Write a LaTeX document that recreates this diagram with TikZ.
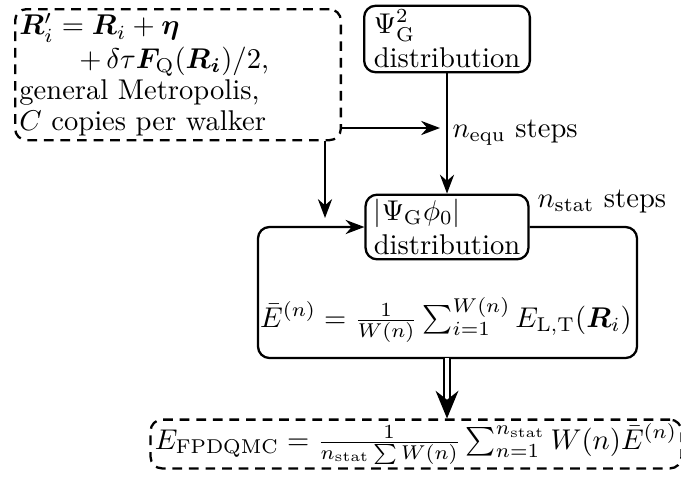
\documentclass[tikz,border=0pt]{standalone}
\usepackage{amsmath}
\usepackage{bm}
\usetikzlibrary{positioning,arrows.meta}

\begin{document}
\begin{tikzpicture}[
  x=0.35pt,y=-0.35pt,
  box/.style={draw,thick,rounded corners=4pt,align=left,inner sep=1.5pt},
  dbox/.style={box,dash pattern=on 3.4pt off 2.4pt},
  a/.style={-{Stealth},thick},
  dbl/.style={double,double distance=1.4pt,thick,-{Stealth[length=3.4mm,width=2.8mm]}}]
\useasboundingbox (0,0) rectangle (681,476);
\node[dbox,text width=111pt,anchor=north west,
      font=\fontsize{10pt}{10.8pt}\selectfont] (prop) at (14,8)
  {$\bm{R}'_i = \bm{R}_i + \bm{\eta}$\\[1pt]
   \hspace*{21pt}$+\,\delta\tau\bm{F}_\mathrm{Q}(\bm{R_i})/2$,\\
   general Metropolis,\\
   $C$ copies per walker};
\node[box,minimum width=58pt] (psi) at (447,39) {$\Psi_\mathrm{G}^2$\\distribution};
\node[box,fill=white,minimum width=57pt] (stat) at (447,227) {$|\Psi_\mathrm{G}\phi_0|$\\distribution};
\node[inner sep=1pt] (ebar) at (446,320)
  {$\bar{E}^{(n)} = \frac{1}{W(n)}\sum_{i=1}^{W(n)} E_\mathrm{L,T}(\bm{R}_i)$};
\node[dbox] (fin) at (416,444)
  {$E_\mathrm{FPDQMC} = \frac{1}{n_\mathrm{stat}\sum W(n)}\sum_{n=1}^{n_\mathrm{stat}} W(n)\bar{E}^{(n)}$};
\node[anchor=base west,inner sep=0pt] (equ) at (452,137) {$n_\mathrm{equ}$ steps};
\node[anchor=base west,inner sep=0pt] (nst) at (537,207) {$n_\mathrm{stat}$ steps};
\coordinate (loopSE) at (637,358);
\coordinate (loopSW) at (258,358);
\coordinate (drop) at (325,218);
\coordinate (join) at (440,128);
% loop of the statistics phase
\draw[a,rounded corners=4pt] (stat.east) -| (loopSE) -| (stat.west -| loopSW) -- (stat.west);
\draw[a] (psi) -- (stat);
\draw[a] (prop.south -| drop) -- (drop);
\draw[a] (prop.east |- join) -- (join);
\draw[dbl] (loopSE -| stat.south) -- (fin.north -| stat.south);
\end{tikzpicture}
\end{document}
